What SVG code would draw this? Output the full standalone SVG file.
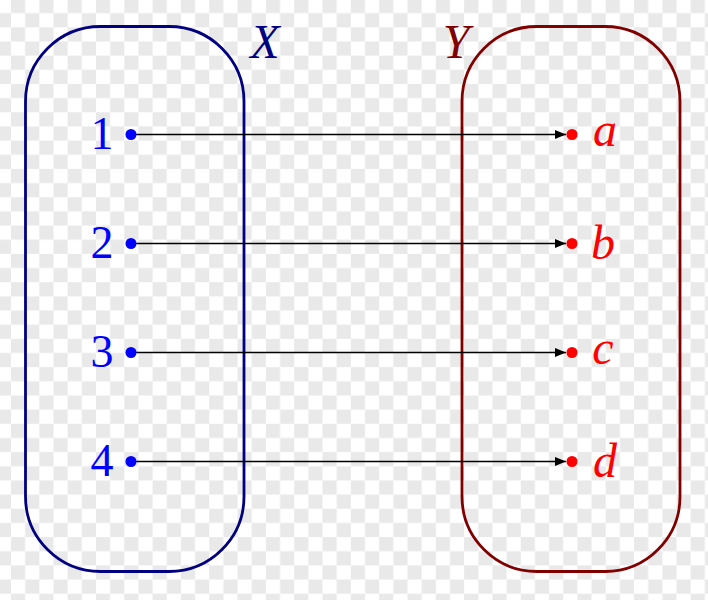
<svg xmlns="http://www.w3.org/2000/svg" width="708" height="600" viewBox="0 0 708 600">
<defs>
<pattern id="chk" width="28.32" height="28.32" patternUnits="userSpaceOnUse" patternTransform="translate(11,-1)">
<rect width="28.32" height="28.32" fill="#ffffff"/>
<rect x="0" y="0" width="14.16" height="14.16" fill="#e9e9e9"/>
<rect x="14.16" y="14.16" width="14.16" height="14.16" fill="#e9e9e9"/>
</pattern>
<marker id="arr" viewBox="0 0 11 10" refX="11" refY="5" markerWidth="11" markerHeight="10" markerUnits="userSpaceOnUse" orient="auto">
<path d="M0,0.5 L11,5 L0,9.5 Z" fill="#000"/>
</marker>
<style>
.setX{fill:none;stroke:#000080;stroke-width:2.8}
.setY{fill:none;stroke:#800000;stroke-width:2.8}
.num{font-family:"Liberation Serif",serif;font-size:46px;fill:#0000ff;text-anchor:middle}
.let{font-family:"Liberation Serif",serif;font-style:italic;font-size:48px;fill:#ff0000;text-anchor:middle}
.dx{fill:#0000ff}
.dy{fill:#ff0000}
.edge{stroke:#000;stroke-width:1.5;fill:none;marker-end:url(#arr)}
</style>
</defs>
<rect width="708" height="600" fill="url(#chk)"/>
<g id="setX">
<rect class="setX" x="25.5" y="26.5" width="218.5" height="545" rx="75" ry="75"/>
<text x="265" y="58" style="font-family:'Liberation Serif',serif;font-style:italic;font-size:48px;fill:#000080" text-anchor="middle">X</text>
</g>
<g id="setY">
<rect class="setY" x="462" y="26.5" width="218" height="545" rx="75" ry="75"/>
<text x="456" y="58" style="font-family:'Liberation Serif',serif;font-style:italic;font-size:48px;fill:#800000" text-anchor="middle">Y</text>
</g>
<g id="connectors">
<line class="edge" x1="131" y1="134.5" x2="566" y2="134.5"/>
<line class="edge" x1="131" y1="243.5" x2="566" y2="243.5"/>
<line class="edge" x1="131" y1="352.5" x2="566" y2="352.5"/>
<line class="edge" x1="131" y1="461.5" x2="566" y2="461.5"/>
</g>
<g id="x1"><circle class="dx" cx="131" cy="134.5" r="5.5"/><text class="num" x="102" y="149">1</text></g>
<g id="x2"><circle class="dx" cx="131" cy="243.5" r="5.5"/><text class="num" x="102" y="258">2</text></g>
<g id="x3"><circle class="dx" cx="131" cy="352.5" r="5.5"/><text class="num" x="102" y="367">3</text></g>
<g id="x4"><circle class="dx" cx="131" cy="461.5" r="5.5"/><text class="num" x="102" y="476">4</text></g>
<g id="ya"><circle class="dy" cx="572" cy="134.5" r="5.5"/><text class="let" x="605" y="146">a</text></g>
<g id="yb"><circle class="dy" cx="572" cy="243.5" r="5.5"/><text class="let" x="603" y="259">b</text></g>
<g id="yc"><circle class="dy" cx="572" cy="352.5" r="5.5"/><text class="let" x="603" y="364">c</text></g>
<g id="yd"><circle class="dy" cx="572" cy="461.5" r="5.5"/><text class="let" x="605" y="477">d</text></g>
</svg>
